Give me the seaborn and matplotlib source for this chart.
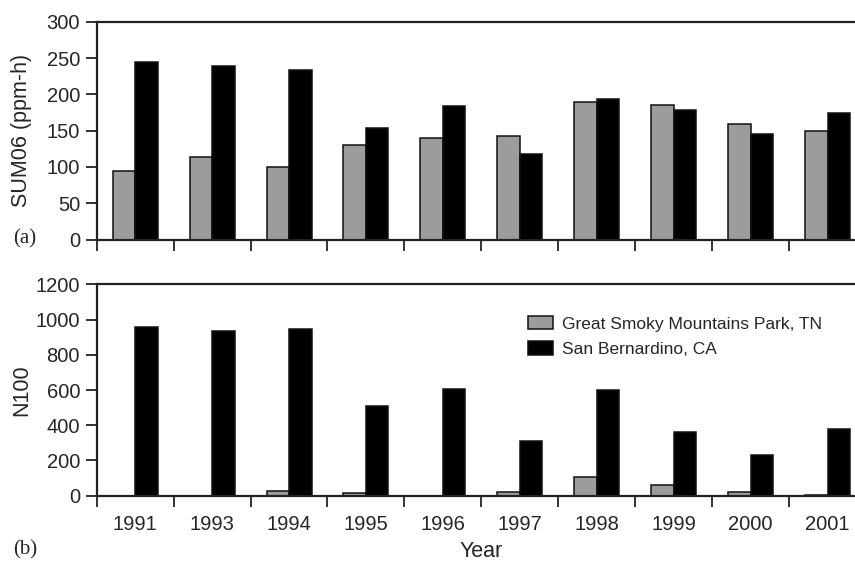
import matplotlib
matplotlib.use("Agg")
import matplotlib.pyplot as plt
import seaborn as sns
import pandas as pd
import numpy as np
from matplotlib.patches import Patch

years = ["1991", "1993", "1994", "1995", "1996", "1997", "1998", "1999", "2000", "2001"]
sites = ["Great Smoky Mountains Park, TN", "San Bernardino, CA"]

sum06_smoky = [95, 114, 100, 130, 140, 143, 189, 185, 159, 149]
sum06_sanb = [245, 239, 234, 154, 184, 118, 194, 178, 146, 175]

n100_smoky = [0, 0, 25, 15, 0, 19, 106, 59, 19, 5]
n100_sanb = [957, 935, 948, 507, 607, 309, 598, 363, 233, 377]

sum06_ticks = [0, 50, 100, 150, 200, 250, 300]
n100_ticks = [0, 200, 400, 600, 800, 1000, 1200]

colors = {sites[0]: "#9c9c9c", sites[1]: "#000000"}


def long_frame(a, b):
    return pd.DataFrame({
        "year": years * 2,
        "site": [sites[0]] * len(years) + [sites[1]] * len(years),
        "value": list(a) + list(b),
    })


sns.set_style("white")
plt.rcParams["font.family"] = ["Liberation Sans", "DejaVu Sans"]

W, H = 855, 564
fig = plt.figure(figsize=(W / 100, H / 100), dpi=100)

AX_LEFT, AX_RIGHT = 96.7, 866


def px_axes(left, top, right, bottom):
    return fig.add_axes([left / W, 1 - bottom / H, (right - left) / W, (bottom - top) / H])


ax1 = px_axes(AX_LEFT, 22, AX_RIGHT, 239.5)
ax2 = px_axes(AX_LEFT, 284.3, AX_RIGHT, 495.7)

TICK_FS = 14.5
LABEL_FS = 15.5


def draw(ax, df, ticks, ylabel, show_labels):
    sns.barplot(data=df, x="year", y="value", hue="site", hue_order=sites,
                palette=colors, order=years, width=0.585, gap=0,
                edgecolor="#111111", linewidth=1.1, saturation=1,
                legend=False, ax=ax)
    ax.set_xlim(-0.5, len(years) - 0.5)
    ax.set_ylim(ticks[0], ticks[-1])
    ax.set_yticks(ticks)
    ax.set_yticklabels([str(t) for t in ticks], fontsize=TICK_FS)
    ax.set_ylabel(ylabel, fontsize=LABEL_FS)
    ax.yaxis.set_label_coords((32 - AX_LEFT) / (AX_RIGHT - AX_LEFT), 0.5)
    # boundary ticks between years, labels centred under each year
    ax.set_xticks(np.arange(len(years)) - 0.5)
    ax.set_xticklabels([])
    ax.set_xticks(np.arange(len(years)), minor=True)
    if show_labels:
        ax.set_xticklabels(years, minor=True, fontsize=TICK_FS)
    ax.tick_params(axis="x", which="major", direction="out", length=8, width=1.3,
                   color="#222222", bottom=True)
    ax.tick_params(axis="x", which="minor", length=0, pad=14)
    ax.tick_params(axis="y", direction="out", length=8, width=1.3,
                   color="#222222", left=True, pad=4)
    for s in ["left", "bottom", "top"]:
        ax.spines[s].set_visible(True)
        ax.spines[s].set_linewidth(1.6)
        ax.spines[s].set_color("#222222")
    ax.spines["right"].set_visible(False)
    ax.set_xlabel("")


draw(ax1, long_frame(sum06_smoky, sum06_sanb), sum06_ticks, "SUM06 (ppm-h)", False)
draw(ax2, long_frame(n100_smoky, n100_sanb), n100_ticks, "N100", True)
ax2.set_xlabel("Year", fontsize=LABEL_FS, labelpad=5)

handles = [Patch(facecolor=colors[s], edgecolor="#111111", linewidth=1.1, label=s) for s in sites]
ax2.legend(handles=handles, loc="upper left", bbox_to_anchor=(512 / W, 1 - 300 / H),
           bbox_transform=fig.transFigure, frameon=False, fontsize=12.5,
           handlelength=1.45, handleheight=0.85, handletextpad=0.55, labelspacing=0.55)

fig.text(13 / W, 1 - 239 / H, "(a)", family=["Liberation Serif"], fontsize=15,
         va="center", ha="left")
fig.text(13 / W, 1 - 550 / H, "(b)", family=["Liberation Serif"], fontsize=15,
         va="center", ha="left")

fig.savefig("out.png", dpi=100)
